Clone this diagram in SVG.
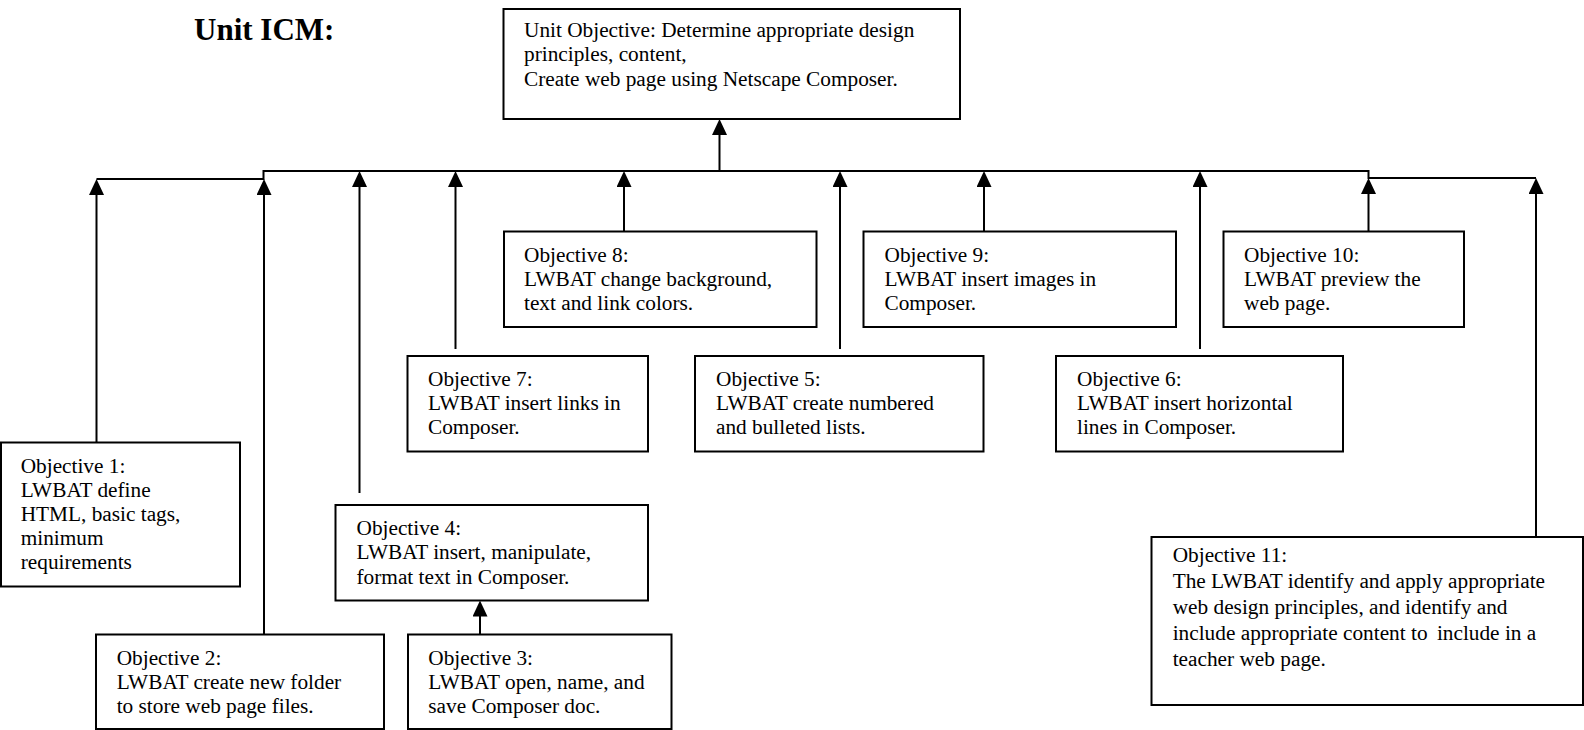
<svg xmlns="http://www.w3.org/2000/svg" width="1584" height="730" viewBox="0 0 1584 730">
<style>
.box{fill:#fff;stroke:#000;stroke-width:2}
.t{font-family:"Liberation Serif","Times New Roman",serif;font-size:21.3px;fill:#000}
.title{font-family:"Liberation Serif","Times New Roman",serif;font-size:31px;font-weight:bold;fill:#000}
.c{fill:none;stroke:#000;stroke-width:2}
</style>
<defs>
<marker id="ah" markerUnits="userSpaceOnUse" markerWidth="16" markerHeight="16" viewBox="0 0 16 16" refX="9" refY="7.5" orient="auto">
<path d="M0,0 L16,7.5 L0,15 Z" fill="#000"/>
</marker>
</defs>
<rect width="1584" height="730" fill="#fff"/>
<text class="title" x="194" y="39.5">Unit ICM:</text>
<g id="connectors">
<polyline class="c" points="96.5,179 263.5,179 263.5,171 1368.5,171 1368.5,178 1536,178"/>
<line class="c" x1="719.5" y1="171" x2="719.5" y2="126" marker-end="url(#ah)"/>
<line class="c" x1="96.5" y1="442.5" x2="96.5" y2="186" marker-end="url(#ah)"/>
<line class="c" x1="264" y1="644" x2="264" y2="186" marker-end="url(#ah)"/>
<line class="c" x1="359.5" y1="493" x2="359.5" y2="178" marker-end="url(#ah)"/>
<line class="c" x1="455.5" y1="349" x2="455.5" y2="178" marker-end="url(#ah)"/>
<line class="c" x1="624" y1="231.5" x2="624" y2="178" marker-end="url(#ah)"/>
<line class="c" x1="840" y1="349" x2="840" y2="178" marker-end="url(#ah)"/>
<line class="c" x1="984" y1="231.5" x2="984" y2="178" marker-end="url(#ah)"/>
<line class="c" x1="1200" y1="349" x2="1200" y2="178" marker-end="url(#ah)"/>
<line class="c" x1="1368.5" y1="231.5" x2="1368.5" y2="185" marker-end="url(#ah)"/>
<line class="c" x1="1536" y1="537" x2="1536" y2="185" marker-end="url(#ah)"/>
<line class="c" x1="480" y1="644" x2="480" y2="607.5" marker-end="url(#ah)"/>
</g>
<g id="unit-objective">
<rect class="box" x="503.5" y="9" width="456.5" height="110"/>
<text class="t"><tspan x="524" y="36.5">Unit Objective: Determine appropriate design</tspan><tspan x="524" y="61">principles, content,</tspan><tspan x="524" y="85.5">Create web page using Netscape Composer.</tspan></text>
</g>
<g id="obj8">
<rect class="box" x="504" y="231.5" width="312.5" height="95.5"/>
<text class="t"><tspan x="524" y="261.5">Objective 8:</tspan><tspan x="524" y="285.8">LWBAT change background,</tspan><tspan x="524" y="310.1">text and link colors.</tspan></text>
</g>
<g id="obj9">
<rect class="box" x="863.5" y="231.5" width="312.5" height="95.5"/>
<text class="t"><tspan x="884.5" y="261.5">Objective 9:</tspan><tspan x="884.5" y="285.8">LWBAT insert images in</tspan><tspan x="884.5" y="310.1">Composer.</tspan></text>
</g>
<g id="obj10">
<rect class="box" x="1223.5" y="231.5" width="240.5" height="95.5"/>
<text class="t"><tspan x="1244" y="261.5">Objective 10:</tspan><tspan x="1244" y="285.8">LWBAT preview the</tspan><tspan x="1244" y="310.1">web page.</tspan></text>
</g>
<g id="obj7">
<rect class="box" x="407.5" y="356" width="240.5" height="95.5"/>
<text class="t"><tspan x="428" y="385.5">Objective 7:</tspan><tspan x="428" y="409.8">LWBAT insert links in</tspan><tspan x="428" y="434.1">Composer.</tspan></text>
</g>
<g id="obj5">
<rect class="box" x="695" y="356" width="288.5" height="95.5"/>
<text class="t"><tspan x="716" y="385.5">Objective 5:</tspan><tspan x="716" y="409.8">LWBAT create numbered</tspan><tspan x="716" y="434.1">and bulleted lists.</tspan></text>
</g>
<g id="obj6">
<rect class="box" x="1056" y="356" width="287" height="95.5"/>
<text class="t"><tspan x="1077" y="385.5">Objective 6:</tspan><tspan x="1077" y="409.8">LWBAT insert horizontal</tspan><tspan x="1077" y="434.1">lines in Composer.</tspan></text>
</g>
<g id="obj1">
<rect class="box" x="1" y="442.5" width="239" height="144"/>
<text class="t"><tspan x="20.7" y="472.5">Objective 1:</tspan><tspan x="20.7" y="496.7">LWBAT define</tspan><tspan x="20.7" y="520.9">HTML, basic tags,</tspan><tspan x="20.7" y="545.1">minimum</tspan><tspan x="20.7" y="569.3">requirements</tspan></text>
</g>
<g id="obj4">
<rect class="box" x="335.5" y="505" width="312.5" height="95.5"/>
<text class="t"><tspan x="356.5" y="535">Objective 4:</tspan><tspan x="356.5" y="559.3">LWBAT insert, manipulate,</tspan><tspan x="356.5" y="583.6">format text in Composer.</tspan></text>
</g>
<g id="obj2">
<rect class="box" x="96" y="634.5" width="288" height="94.5"/>
<text class="t"><tspan x="116.7" y="664.5">Objective 2:</tspan><tspan x="116.7" y="688.8">LWBAT create new folder</tspan><tspan x="116.7" y="713.1">to store web page files.</tspan></text>
</g>
<g id="obj3">
<rect class="box" x="408" y="634.5" width="263.5" height="94.5"/>
<text class="t"><tspan x="428.3" y="664.5">Objective 3:</tspan><tspan x="428.3" y="688.8">LWBAT open, name, and</tspan><tspan x="428.3" y="713.1">save Composer doc.</tspan></text>
</g>
<g id="obj11">
<rect class="box" x="1151.5" y="537" width="431.5" height="168"/>
<text class="t"><tspan x="1172.7" y="562">Objective 11:</tspan><tspan x="1172.7" y="588">The LWBAT identify and apply appropriate</tspan><tspan x="1172.7" y="614">web design principles, and identify and</tspan><tspan x="1172.7" y="640">include appropriate content to <tspan dx="4">include in a</tspan></tspan><tspan x="1172.7" y="666">teacher web page.</tspan></text>
</g>
</svg>
